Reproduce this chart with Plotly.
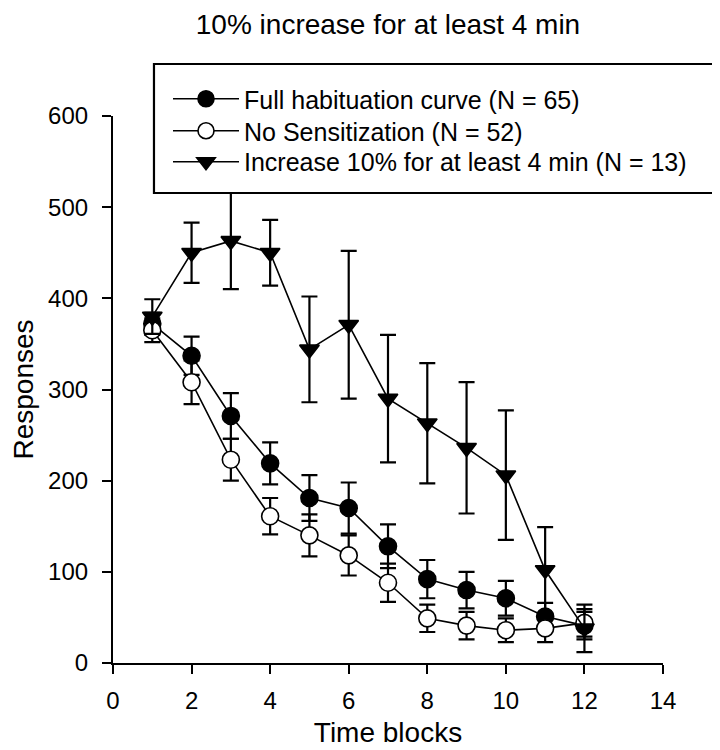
import plotly.graph_objects as go

blocks = list(range(1, 13))

full_mean = [372, 337, 271, 219, 181, 170, 128, 92, 80, 71, 51, 41]
full_err = [12, 21, 25, 23, 25, 28, 24, 21, 20, 19, 15, 15]

nosens_mean = [365, 308, 223, 161, 140, 118, 88, 49, 41, 36, 38, 44]
nosens_err = [13, 24, 23, 20, 23, 22, 21, 15, 15, 13, 15, 15]

inc_mean = [380, 450, 463, 450, 344, 371, 290, 263, 236, 206, 102, 38]
inc_err = [19, 33, 53, 36, 58, 81, 70, 66, 72, 71, 47, 26]

names = [
    "Full habituation curve (N = 65)",
    "No Sensitization (N = 52)",
    "Increase 10% for at least 4 min (N = 13)",
]

FONT = "Liberation Sans, Arial, sans-serif"

fig = go.Figure()

series = [
    (full_mean, full_err, "circle", "black", names[0], "legend"),
    (nosens_mean, nosens_err, "circle", "white", names[1], "legend2"),
    (inc_mean, inc_err, "triangle-down", "black", names[2], "legend3"),
]

for m, e, sym, fill, nm, lg in series:
    fig.add_trace(go.Scatter(
        x=blocks, y=m, name=nm, mode="lines+markers", legend=lg,
        line=dict(color="black", width=1.6),
        marker=dict(symbol=sym, size=17, color=fill,
                    line=dict(color="black", width=1.6)),
        error_y=dict(type="data", array=e, visible=True,
                     color="black", thickness=2.2, width=8),
    ))

# legend frame
fig.add_shape(type="rect", xref="paper", yref="paper",
              x0=0.0745, x1=1.0927, y0=0.8592, y1=1.0951,
              line=dict(color="black", width=2.2), fillcolor="white",
              layer="above")

leg_common = dict(x=0.1, xanchor="left", yanchor="top", borderwidth=0,
                  bgcolor="rgba(0,0,0,0)", font=dict(size=25), itemwidth=66)

fig.update_layout(
    width=720, height=750,
    paper_bgcolor="white", plot_bgcolor="white",
    margin=dict(l=105, r=65, t=108, b=95, autoexpand=False),
    font=dict(family=FONT, size=24, color="black"),
    title=dict(text="10% increase for at least 4 min", x=0.5, xref="paper",
               yref="container", y=0.991, yanchor="top",
               font=dict(size=28)),
    showlegend=True,
    legend=dict(y=1.0731, **leg_common),
    legend2=dict(y=1.0146, **leg_common),
    legend3=dict(y=0.9580, **leg_common),
    xaxis=dict(range=[0, 14], tickvals=[0, 2, 4, 6, 8, 10, 12, 14],
               automargin=False,
               showgrid=False, zeroline=False, showline=True,
               linecolor="black", linewidth=2.2, ticks="outside",
               ticklen=9, tickwidth=2.2, tickcolor="black",
               ticklabelstandoff=6,
               title=dict(text="Time blocks", font=dict(size=28), standoff=9),
               tickfont=dict(size=24)),
    yaxis=dict(range=[0, 600], tickvals=[0, 100, 200, 300, 400, 500, 600],
               automargin=False,
               showgrid=False, zeroline=False, showline=True,
               linecolor="black", linewidth=2.2, ticks="outside",
               ticklen=9, tickwidth=2.2, tickcolor="black",
               ticklabelstandoff=9,
               title=dict(text="Responses", font=dict(size=28), standoff=20),
               tickfont=dict(size=24)),
)

fig.write_html("out.html")
